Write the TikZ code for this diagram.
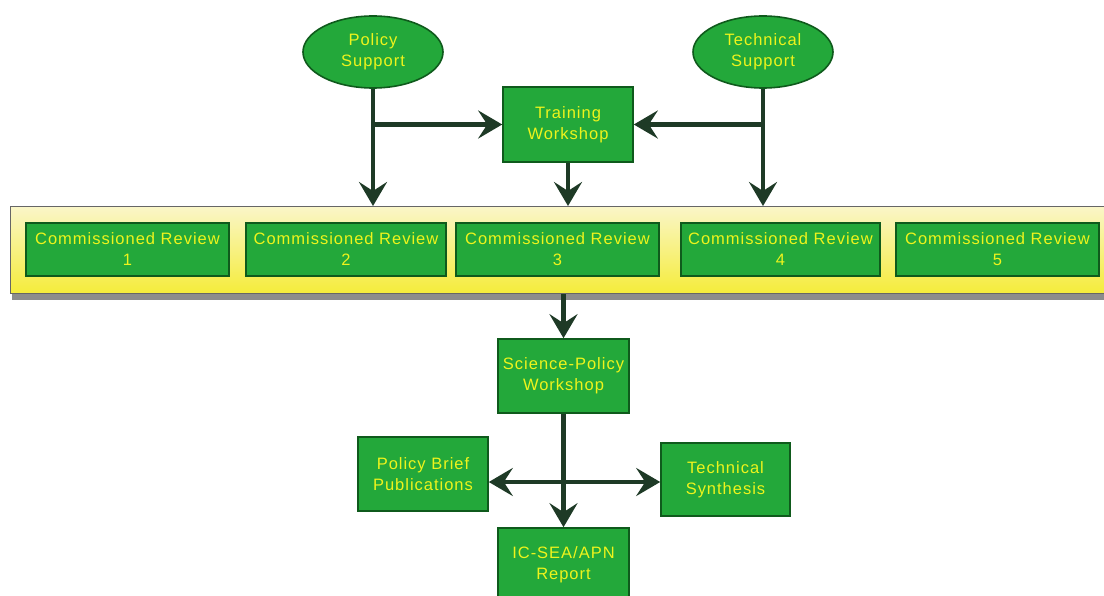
\documentclass[tikz,border=0pt]{standalone}
\usepackage{fontspec}
\setmainfont{Liberation Sans}[LetterSpace=6]
\usetikzlibrary{shapes.geometric,arrows.meta,positioning}
\definecolor{boxgreen}{HTML}{23A83A}
\definecolor{boxborder}{HTML}{0F5A1C}
\definecolor{txtyellow}{HTML}{EEF41C}
\definecolor{arrowdark}{HTML}{1E3A26}
\definecolor{bandtop}{HTML}{FAF6C8}
\definecolor{bandbot}{HTML}{F5EC3A}
\tikzset{
  greenbox/.style={rectangle, draw=boxborder, line width=1.6pt, fill=boxgreen,
    text=txtyellow, align=center, inner sep=0pt,
    font=\fontsize{16.5}{21}\selectfont},
  greenoval/.style={ellipse, draw=boxborder, line width=1.6pt, fill=boxgreen,
    text=txtyellow, align=center, inner sep=0pt,
    minimum width=140pt, minimum height=72pt,
    font=\fontsize{16.5}{21}\selectfont},
  flow/.style={draw=arrowdark, line width=4.5pt,
    -{Stealth[length=24pt,width=28pt,inset=9pt]}},
}
\begin{document}
\begin{tikzpicture}[x=1pt,y=-1pt]
\useasboundingbox[fill=white] (0,0) rectangle (1104,596);

% yellow band with shadow
\fill[black!60, opacity=0.75] (12,291) rectangle (1110,300);
\node[draw=black!60, line width=1.2pt, top color=bandtop, bottom color=bandbot,
  minimum width=1105pt, minimum height=87pt, inner sep=0pt, anchor=north west]
  (band) at (10,206) {};

% top ovals and training workshop
\node[greenoval] (ps) at (373,52) {Policy\\Support};
\node[greenoval] (ts) at (763,52) {Technical\\Support};
\node[greenbox, minimum width=130pt, minimum height=75pt] (tw) at (568,124.5) {Training\\Workshop};

% commissioned reviews
\node[greenbox, minimum width=203pt, minimum height=53pt] (r1) at (127.5,249.5) {Commissioned Review\\1};
\node[greenbox, minimum width=200pt, minimum height=53pt] (r2) at (346,249.5) {Commissioned Review\\2};
\node[greenbox, minimum width=203pt, minimum height=53pt] (r3) at (557.5,249.5) {Commissioned Review\\3};
\node[greenbox, minimum width=199pt, minimum height=53pt] (r4) at (780.5,249.5) {Commissioned Review\\4};
\node[greenbox, minimum width=203pt, minimum height=53pt] (r5) at (997.5,249.5) {Commissioned Review\\5};

% lower part
\node[greenbox, minimum width=131pt, minimum height=74pt] (spw) at (563.5,376) {Science-Policy\\Workshop};
\node[greenbox, minimum width=130pt, minimum height=74pt] (pbp) at (423,474) {Policy Brief\\Publications};
\node[greenbox, minimum width=129pt, minimum height=73pt] (tsyn) at (725.5,479.5) {Technical\\Synthesis};
\node[greenbox, minimum width=131pt, minimum height=74pt] (rep) at (563.5,565) {IC-SEA/APN\\Report};

% connectors
\draw[flow] (ps.south) -- (ps.south |- band.north);
\draw[flow] (ps.south |- tw.west) -- (tw.west);
\draw[flow] (ts.south) -- (ts.south |- band.north);
\draw[flow] (ts.south |- tw.east) -- (tw.east);
\draw[flow] (tw.south) -- (tw.south |- band.north);
\draw[flow] (band.south -| spw.north) -- (spw.north);
\draw[flow] (spw.south) -- (rep.north);
\coordinate (j) at (563.5,482);
\draw[flow] (j) -- (j -| pbp.east);
\draw[flow] (j) -- (j -| tsyn.west);
\end{tikzpicture}
\end{document}
